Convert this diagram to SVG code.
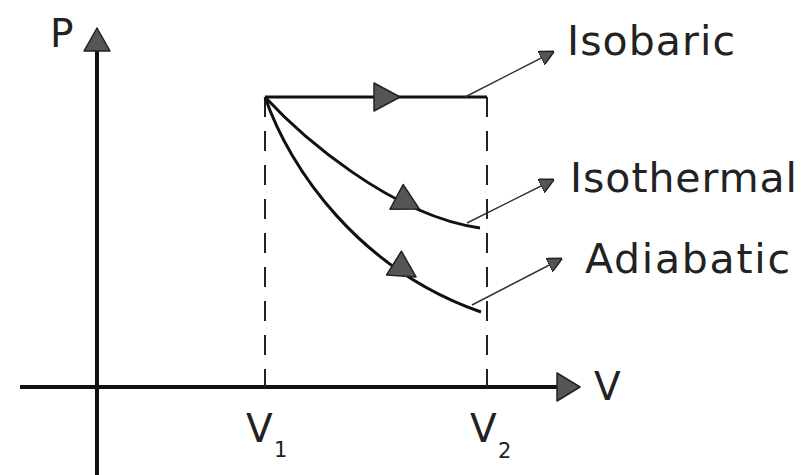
<svg xmlns="http://www.w3.org/2000/svg" width="805" height="475" viewBox="0 0 805 475">
<style>
.axis{stroke:#111;stroke-width:4;fill:none}
.curve{stroke:#111;stroke-width:3;fill:none}
.dash{stroke:#222;stroke-width:2;stroke-dasharray:20 14;fill:none}
.lead{stroke:#333;stroke-width:1.5;fill:none}
.head{fill:#555;stroke:#222;stroke-width:1.5;stroke-linejoin:round}
.lbl{font-family:"DejaVu Sans","Open Sans",sans-serif;fill:#222;font-size:39px}
.big{font-size:41px}
.sub{font-family:"DejaVu Sans","Open Sans",sans-serif;fill:#222;font-size:21px}
</style>
<defs>
<path id="tri" d="M -13,-14 L 13,0 L -13,14 Z"/>
<marker id="sm" viewBox="0 0 10 10" refX="9" refY="5" markerWidth="15" markerHeight="15" markerUnits="userSpaceOnUse" orient="auto">
<path d="M0,0 L10,5 L0,10 Z" fill="#555" stroke="#222" stroke-width="1"/>
</marker>
</defs>
<g id="axes">
<line class="axis" x1="97" y1="475" x2="97" y2="48"/>
<polygon class="head" points="97,28 84,51 110,51"/>
<line class="axis" x1="20" y1="387" x2="560" y2="387"/>
<polygon class="head" points="580,387 557,373 557,401"/>
</g>
<g id="guides">
<line class="dash" x1="265" y1="97" x2="265" y2="387"/>
<line class="dash" x1="487" y1="97" x2="487" y2="387"/>
</g>
<g id="isobaric">
<line class="curve" x1="265" y1="97" x2="487" y2="97"/>
<use href="#tri" class="head" transform="translate(387,97)"/>
</g>
<g id="isothermal">
<path class="curve" d="M265,97 C300,135 390,215 480,228"/>
<use href="#tri" class="head" transform="translate(408,203) rotate(28)"/>
</g>
<g id="adiabatic">
<path class="curve" d="M265,97 C290,170 360,270 481,312"/>
<use href="#tri" class="head" transform="translate(405,270) rotate(32)"/>
</g>
<g id="connectors">
<line class="lead" x1="465" y1="97" x2="553" y2="52" marker-end="url(#sm)"/>
<line class="lead" x1="467" y1="223" x2="553" y2="180" marker-end="url(#sm)"/>
<line class="lead" x1="472" y1="305" x2="561" y2="259" marker-end="url(#sm)"/>
</g>
<g id="labels">
<text class="lbl" x="50" y="47">P</text>
<text class="lbl" x="594" y="400">V</text>
<text class="lbl" x="246" y="442">V</text><text class="sub" x="274" y="457">1</text>
<text class="lbl" x="470" y="442">V</text><text class="sub" x="498" y="458">2</text>
<text class="lbl big" x="567" y="55" textLength="168">Isobaric</text>
<text class="lbl big" x="570" y="192" textLength="227">Isothermal</text>
<text class="lbl big" x="585" y="273" textLength="205">Adiabatic</text>
</g>
</svg>
